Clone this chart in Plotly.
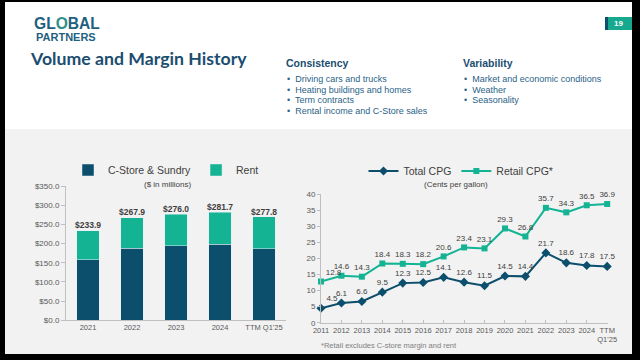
import plotly.graph_objects as go

# ---- data ----
bar_cats = ["2021", "2022", "2023", "2024", "TTM Q1'25"]
cstore = [158.0, 188.0, 194.0, 198.0, 186.0]
rent = [75.9, 79.9, 82.0, 83.7, 84.0]
bar_totals = ["$233.9", "$267.9", "$276.0", "$281.7", "$277.8"]

line_cats = ["2011", "2012", "2013", "2014", "2015", "2016", "2017", "2018",
             "2019", "2020", "2021", "2022", "2023", "2024", "TTM<br>Q1'25"]
total_cpg = [4.5, 6.1, 6.6, 9.5, 12.3, 12.5, 14.1, 12.6, 11.5, 14.5, 14.4, 21.7, 18.6, 17.8, 17.5]
retail_cpg = [12.8, 14.6, 14.3, 18.4, 18.3, 18.2, 20.6, 23.4, 23.1, 29.3, 26.8, 35.7, 34.3, 36.5, 36.9]

consistency = ["Driving cars and trucks", "Heating buildings and homes",
               "Term contracts", "Rental income and C-Store sales"]
variability = ["Market and economic conditions", "Weather", "Seasonality"]

# ---- style ----
W, H = 640, 360
NAVY = "#0b4f6c"
TEAL = "#13b394"
DARK = "#404040"
GRAY = "#595959"
HEAD = "#1b4d70"
BUL = "#2a5f86"
FONT = "Liberation Sans, Arial, sans-serif"

def px(x):
    return x / W

def py(y):
    return 1 - y / H

label_pos = ["top right"] + ["top center"] * (len(line_cats) - 1)

fig = go.Figure()

# left stacked bars
fig.add_trace(go.Bar(x=bar_cats, y=cstore, name="C-Store & Sundry", marker_color=NAVY,
                     xaxis="x", yaxis="y", legend="legend", width=0.52))
fig.add_trace(go.Bar(x=bar_cats, y=rent, name="Rent", marker_color=TEAL,
                     xaxis="x", yaxis="y", legend="legend", width=0.52))
fig.add_trace(go.Scatter(x=bar_cats, y=[c + r for c, r in zip(cstore, rent)], mode="text",
                         text=bar_totals, textposition="top center",
                         textfont=dict(size=8.5, color=DARK, family=FONT, weight="bold"),
                         showlegend=False, xaxis="x", yaxis="y", cliponaxis=False))

# right lines
fig.add_trace(go.Scatter(x=line_cats, y=total_cpg, name="Total CPG", mode="lines+markers+text",
                         line=dict(color=NAVY, width=2), marker=dict(symbol="diamond", size=7, color=NAVY),
                         text=[f"{v:.1f}" for v in total_cpg], textposition=label_pos,
                         textfont=dict(size=8, color=DARK, family=FONT),
                         xaxis="x2", yaxis="y2", legend="legend2", cliponaxis=False))
fig.add_trace(go.Scatter(x=line_cats, y=retail_cpg, name="Retail CPG*", mode="lines+markers+text",
                         line=dict(color=TEAL, width=2), marker=dict(symbol="square", size=6, color=TEAL),
                         text=[f"{v:.1f}" for v in retail_cpg], textposition=label_pos,
                         textfont=dict(size=8, color=DARK, family=FONT),
                         xaxis="x2", yaxis="y2", legend="legend2", cliponaxis=False))

axis_common = dict(showgrid=False, zeroline=False, showline=True, linecolor="#bfbfbf", linewidth=1)

shapes = [
    dict(type="rect", xref="paper", yref="paper", x0=px(5), x1=px(632), y0=py(2), y1=py(129),
         fillcolor="white", line_width=0, layer="below"),
    dict(type="rect", xref="paper", yref="paper", x0=px(5), x1=px(632), y0=py(129), y1=py(354),
         fillcolor="#f2f2f2", line_width=0, layer="below"),
    dict(type="rect", xref="paper", yref="paper", x0=px(605), x1=px(632), y0=py(17), y1=py(30),
         fillcolor="#16a98d", line_width=0, layer="below"),
    dict(type="rect", xref="paper", yref="paper", x0=px(605), x1=px(608), y0=py(17), y1=py(30),
         fillcolor=NAVY, line_width=0, layer="below"),
]

ann = []
def add_text(x, y, t, size, color, bold=False, anchor="left", family=FONT):
    ann.append(dict(x=px(x), y=py(y), xref="paper", yref="paper", text=t, showarrow=False,
                    xanchor=anchor, yanchor="middle",
                    font=dict(size=size, color=color, family=family, weight="bold" if bold else "normal")))

add_text(32, 24, "GL<span style='color:#2f8f8a'>O</span>BAL", 15.6, "#1f5f80", bold=True)
add_text(34, 37, "PARTNERS", 11, "#1f5f80", bold=True)
add_text(28, 59, "Volume and Margin History", 17.7, HEAD, bold=True, family="Lato, Liberation Sans, sans-serif")
add_text(284, 62.5, "Consistency", 10.5, HEAD, bold=True)
add_text(461, 62.5, "Variability", 10.5, HEAD, bold=True)
ys = [78.7, 89.7, 100.3, 111.3]
for i, t in enumerate(consistency):
    add_text(285, ys[i], "•  " + t, 9, BUL)
for i, t in enumerate(variability):
    add_text(462, ys[i], "•  " + t, 9, BUL)
add_text(618, 23.5, "19", 8, "white", bold=True, anchor="center")
add_text(167, 185, "($ in millions)", 8, DARK, anchor="center")
add_text(456, 184.5, "(Cents per gallon)", 8, DARK, anchor="center")
add_text(319, 345, "*Retail excludes C-store margin and rent", 7.5, "#808080")

fig.update_layout(
    width=W, height=H, margin=dict(l=0, r=0, t=0, b=0, autoexpand=False),
    paper_bgcolor="black", plot_bgcolor="rgba(0,0,0,0)",
    barmode="stack", font=dict(family=FONT),
    xaxis=dict(domain=[px(66), px(286)], range=[-0.5, 4.5], type="category", ticks="",
               tickangle=0, tickfont=dict(size=7.5, color=GRAY, family=FONT), **axis_common),
    yaxis=dict(domain=[py(320.3), py(186)], range=[0, 350], tickprefix="$", tickformat=".1f",
               dtick=50, ticks="outside", ticklen=4, tickcolor="#bfbfbf",
               tickfont=dict(size=8, color=GRAY, family=FONT), **axis_common),
    xaxis2=dict(domain=[px(321), px(608)], range=[0, 14.04], type="category", ticks="inside",
                ticklen=3, tickcolor="#bfbfbf", anchor="y2", tickangle=0,
                tickfont=dict(size=7.5, color=GRAY, family=FONT), **axis_common),
    yaxis2=dict(domain=[py(322.7), py(194)], range=[0, 40], dtick=5, ticks="outside", ticklen=3,
                tickcolor="#bfbfbf", anchor="x2",
                tickfont=dict(size=8, color=GRAY, family=FONT), **axis_common),
    legend=dict(x=px(166), y=py(170), xref="paper", yref="paper", xanchor="center", yanchor="middle",
                orientation="h", bgcolor="rgba(0,0,0,0)", font=dict(size=10.5, color=DARK, family=FONT),
                traceorder="normal", itemwidth=30),
    legend2=dict(x=px(461), y=py(171), xref="paper", yref="paper", xanchor="center", yanchor="middle",
                 orientation="h", bgcolor="rgba(0,0,0,0)", font=dict(size=10.5, color=DARK, family=FONT),
                 traceorder="normal", itemwidth=30),
    shapes=shapes, annotations=ann,
)

fig.write_html("out.html", config={"displayModeBar": False},
               post_script="document.body.style.margin='0';document.body.style.overflow='hidden';")
